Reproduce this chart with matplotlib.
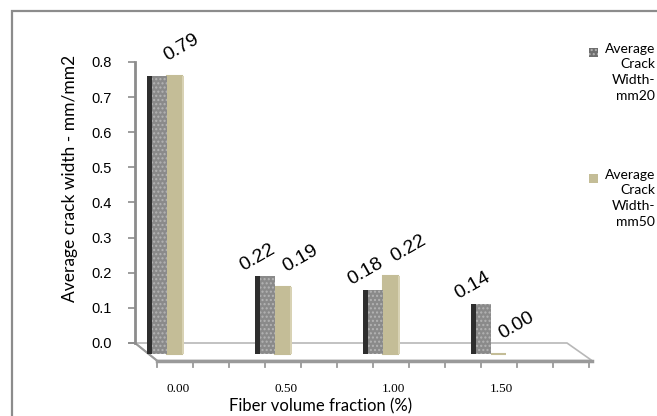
import matplotlib
matplotlib.use('Agg')
import matplotlib.pyplot as plt
from matplotlib.patches import Rectangle, Polygon
import numpy as np

# data
fractions = ['0.00', '0.50', '1.00', '1.50']
mm20 = [0.79, 0.22, 0.18, 0.14]
mm50 = [0.79, 0.19, 0.22, 0.00]
legend_labels = ['Average\nCrack\nWidth-\nmm20', 'Average\nCrack\nWidth-\nmm50']
yticks = [0.0, 0.1, 0.2, 0.3, 0.4, 0.5, 0.6, 0.7, 0.8]

W, H = 657, 416
fig = plt.figure(figsize=(W / 100, H / 100), dpi=100)

def fx(p):
    return p / W

def fy(p):
    return 1 - p / H

# outer chart frame (left and top edges visible)
fig.add_artist(Rectangle((fx(12), fy(430)), fx(700), 419 / H, transform=fig.transFigure,
                         fill=False, edgecolor='#8c8c8c', linewidth=1.6))

ax = fig.add_axes([fx(135), fy(343), fx(567 - 135), (343 - 62) / H])
ax.set_xlim(-0.296, 3.704)
ax.set_ylim(0, 0.8)
for s in ['top', 'right', 'bottom']:
    ax.spines[s].set_visible(False)
ax.spines['left'].set_color('#8c8c8c')
ax.spines['left'].set_linewidth(2)
ax.set_yticks(yticks)
ax.set_yticklabels(['%.1f' % t for t in yticks], fontsize=10.5, family='Liberation Sans')
ax.tick_params(axis='y', direction='out', length=5, width=1.2, color='#8c8c8c', pad=12)

x = np.arange(len(fractions))
base = -0.03      # floor depth offset of the pseudo 3d bars
px = 1 / 108.0    # one pixel in x data units
py = 0.8 / 281.0  # one pixel in y data units

# floor slab
fl = Polygon([(-0.296, 0), (3.704, 0), (3.935, -0.05), (-0.093, -0.05)], closed=True,
             facecolor='white', edgecolor='#b8b8b8', linewidth=1.2, clip_on=False, zorder=1)
ax.add_patch(fl)
ax.plot([-0.093, 3.935], [-0.05, -0.05], color='#9a9a9a', linewidth=2.5, clip_on=False, zorder=1)
ax.plot([-0.296, -0.093], [0, -0.05], color='#9a9a9a', linewidth=1.5, clip_on=False, zorder=1)
ax.plot([-0.296 - 6 * px, -0.296], [0, 0], color='#8c8c8c', linewidth=1.2, clip_on=False, zorder=1)
for k in range(13):
    xt = -0.093 + k / 3.0
    ax.plot([xt, xt], [-0.05, -0.05 - 6 * py], color='#9a9a9a', linewidth=1.3, clip_on=False, zorder=1)

# bars: mm20 (dark side + dotted grey front), mm50 (tan)
side_w = 5 * px
front_w = 15 * px
ax.bar(x - front_w - side_w, mm20, width=side_w, bottom=base, align='edge',
       color='#2e2e2e', linewidth=0, clip_on=False, zorder=3)
ax.bar(x - front_w, mm20, width=front_w, bottom=base, align='edge',
       color='#8a8a8a', edgecolor='#b4b4b4', hatch='....', linewidth=0, clip_on=False, zorder=3)
ax.bar(x, mm50, width=front_w, bottom=base, align='edge',
       color='#c4bd97', edgecolor='#c4bd97', linewidth=1.5, clip_on=False, zorder=2)
ax.bar(x + front_w, mm50, width=2 * px, bottom=base, align='edge',
       color='#d8d2b4', linewidth=0, clip_on=False, zorder=2)

# data labels
lab = dict(ha='center', va='center', rotation=30, fontsize=14, family='Liberation Sans',
           textcoords='offset pixels', annotation_clip=False)
for i in range(len(fractions)):
    if mm20[i] == mm50[i]:
        ax.annotate('%.2f' % mm50[i], (x[i], mm50[i] + base), xytext=(14, 28), **lab)
        continue
    ax.annotate('%.2f' % mm20[i], (x[i], mm20[i] + base), xytext=(-18, 19), **lab)
    ax.annotate('%.2f' % mm50[i], (x[i], mm50[i] + base), xytext=(25, 28), **lab)

# category labels
ax.set_xticks(x + 0.1)
ax.set_xticklabels(fractions, fontsize=9.5, family='Liberation Serif')
ax.tick_params(axis='x', length=0, pad=29)

fig.text(fx(321), fy(406), 'Fiber volume fraction (%)', ha='center', va='center', fontsize=12, family='Lato')
fig.text(fx(70), fy(178), 'Average crack width - mm/mm2', ha='center', va='center', rotation=90,
         fontsize=12.5, family='Lato')

# legend
leg_y = [52, 178]
leg_colors = ['#6e6e6e', '#c4bd97']
for j in range(2):
    fig.add_artist(Rectangle((fx(589), fy(leg_y[j] + 5)), fx(9), 9 / H, transform=fig.transFigure,
                             facecolor=leg_colors[j], edgecolor='#b4b4b4' if j == 0 else leg_colors[j],
                             hatch='....' if j == 0 else None, linewidth=0))
    fig.text(fx(655), fy(leg_y[j] - 9), legend_labels[j], ha='right', va='top', fontsize=10,
             family='Lato', multialignment='right', linespacing=1.35)

fig.savefig('out.png', dpi=100)
